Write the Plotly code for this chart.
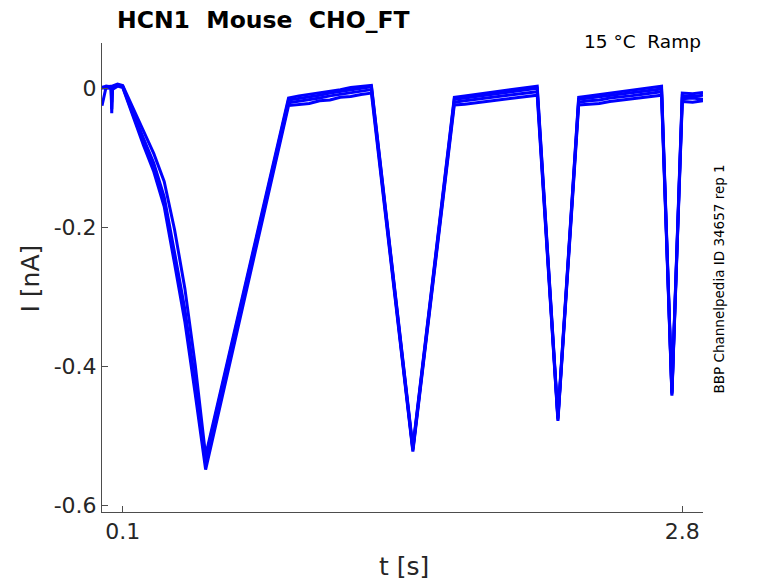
import plotly.graph_objects as go

# sample times of the ramp protocol [s]
t_s = [0.0, 0.02, 0.044, 0.047, 0.05, 0.075, 0.1,
       0.15, 0.2, 0.25, 0.3, 0.35, 0.4, 0.45, 0.5,
       0.9, 0.95, 1.0, 1.05, 1.1, 1.15, 1.2, 1.25, 1.3,
       1.5,
       1.7, 1.75, 1.8, 1.85, 1.9, 1.95, 2.0, 2.05, 2.1,
       2.2,
       2.3, 2.35, 2.4, 2.45, 2.5, 2.55, 2.6, 2.65, 2.7,
       2.75,
       2.8, 2.85, 2.9]

# recorded current per sweep [nA]
sweep_1 = [0.000, 0.001, 0.000, -0.036, -0.002, 0.003, 0.001,
           -0.042, -0.082, -0.120, -0.170, -0.252, -0.336, -0.440, -0.548,
           -0.025, -0.023, -0.022, -0.018, -0.017, -0.013, -0.012, -0.009, -0.007,
           -0.522,
           -0.024, -0.023, -0.021, -0.019, -0.017, -0.015, -0.013, -0.012, -0.010,
           -0.478,
           -0.024, -0.023, -0.022, -0.019, -0.017, -0.015, -0.014, -0.012, -0.010,
           -0.442,
           -0.019, -0.020, -0.018]
sweep_2 = [0.002, 0.000, 0.001, -0.030, 0.001, 0.004, 0.002,
           -0.039, -0.078, -0.115, -0.163, -0.245, -0.328, -0.432, -0.540,
           -0.021, -0.019, -0.016, -0.014, -0.011, -0.009, -0.007, -0.004, -0.002,
           -0.520,
           -0.020, -0.018, -0.016, -0.014, -0.012, -0.010, -0.008, -0.007, -0.005,
           -0.476,
           -0.020, -0.018, -0.017, -0.014, -0.013, -0.011, -0.009, -0.007, -0.005,
           -0.440,
           -0.015, -0.014, -0.016]
sweep_3 = [0.001, 0.003, 0.002, -0.020, 0.002, 0.005, 0.003,
           -0.036, -0.072, -0.108, -0.156, -0.236, -0.318, -0.424, -0.532,
           -0.017, -0.015, -0.012, -0.010, -0.007, -0.005, -0.003, 0.000, 0.002,
           -0.518,
           -0.016, -0.014, -0.012, -0.010, -0.008, -0.006, -0.004, -0.002, 0.000,
           -0.474,
           -0.016, -0.014, -0.012, -0.010, -0.008, -0.006, -0.005, -0.003, -0.001,
           -0.438,
           -0.011, -0.012, -0.010]
sweep_4 = [-0.025, 0.002, 0.003, -0.010, 0.003, 0.006, 0.004,
           -0.029, -0.061, -0.094, -0.134, -0.203, -0.288, -0.398, -0.528,
           -0.014, -0.011, -0.009, -0.006, -0.004, -0.002, 0.001, 0.002, 0.004,
           -0.516,
           -0.013, -0.011, -0.009, -0.007, -0.005, -0.003, -0.001, 0.001, 0.003,
           -0.472,
           -0.013, -0.011, -0.009, -0.007, -0.005, -0.003, -0.001, 0.001, 0.003,
           -0.436,
           -0.007, -0.008, -0.006]
sweeps = [sweep_1, sweep_2, sweep_3, sweep_4]

x_tick_vals = [0.1, 2.8]
x_tick_labels = ["0.1", "2.8"]
y_tick_vals = [-0.6, -0.4, -0.2, 0]
y_tick_labels = ["-0.6", "-0.4", "-0.2", "0"]

FONT = "DejaVu Sans"
AX = "#4d4d4d"
TXT = "#262626"

fig = go.Figure()
for sw in sweeps:
    fig.add_trace(go.Scatter(
        x=t_s, y=sw, mode="lines",
        line=dict(color="#0000ff", width=3),
        hoverinfo="skip", showlegend=False,
    ))

axis_common = dict(
    showgrid=False, zeroline=False, showline=True, linecolor=AX, linewidth=1,
    ticks="inside", ticklen=6, tickcolor=AX,
    tickfont=dict(family=FONT, size=22, color=TXT),
)

fig.update_layout(
    width=778, height=583,
    margin=dict(l=101.5, r=75, t=43, b=71),
    paper_bgcolor="white", plot_bgcolor="white",
    font=dict(family=FONT, color=TXT),
    xaxis=dict(range=[0, 2.9], tickvals=x_tick_vals, ticktext=x_tick_labels,
               **axis_common),
    yaxis=dict(range=[-0.609, 0.065], tickvals=y_tick_vals, ticktext=y_tick_labels,
               **axis_common),
)

# title, annotations and axis labels
fig.add_annotation(text="<b>HCN1\u00a0 Mouse\u00a0 CHO_FT</b>", xref="paper", yref="paper",
                   x=0.0224, y=1.049, xanchor="left", yanchor="middle", showarrow=False,
                   font=dict(family=FONT, size=23.5, color="black"))
fig.add_annotation(text="15 °C\u00a0 Ramp", xref="paper", yref="paper",
                   x=1.0, y=1.004, xanchor="right", yanchor="middle", showarrow=False,
                   font=dict(family=FONT, size=18.5, color="black"))
fig.add_annotation(text="BBP Channelpedia ID 34657 rep 1", xref="paper", yref="paper",
                   x=1.0258, y=0.497, xanchor="center", yanchor="middle", showarrow=False,
                   textangle=-90, font=dict(family=FONT, size=13.5, color="black"))
fig.add_annotation(text="I [nA]", xref="paper", yref="paper",
                   x=-0.119, y=0.499, xanchor="center", yanchor="middle", showarrow=False,
                   textangle=-90, font=dict(family=FONT, size=25, color=TXT))
fig.add_annotation(text="t [s]", xref="paper", yref="paper",
                   x=0.502, y=-0.117, xanchor="center", yanchor="middle", showarrow=False,
                   font=dict(family=FONT, size=25, color=TXT))

# drop the default page margin so the figure fills the window exactly
fig.write_html("out.html", config={"displayModeBar": False},
               post_script="document.body.style.margin = '0';")
